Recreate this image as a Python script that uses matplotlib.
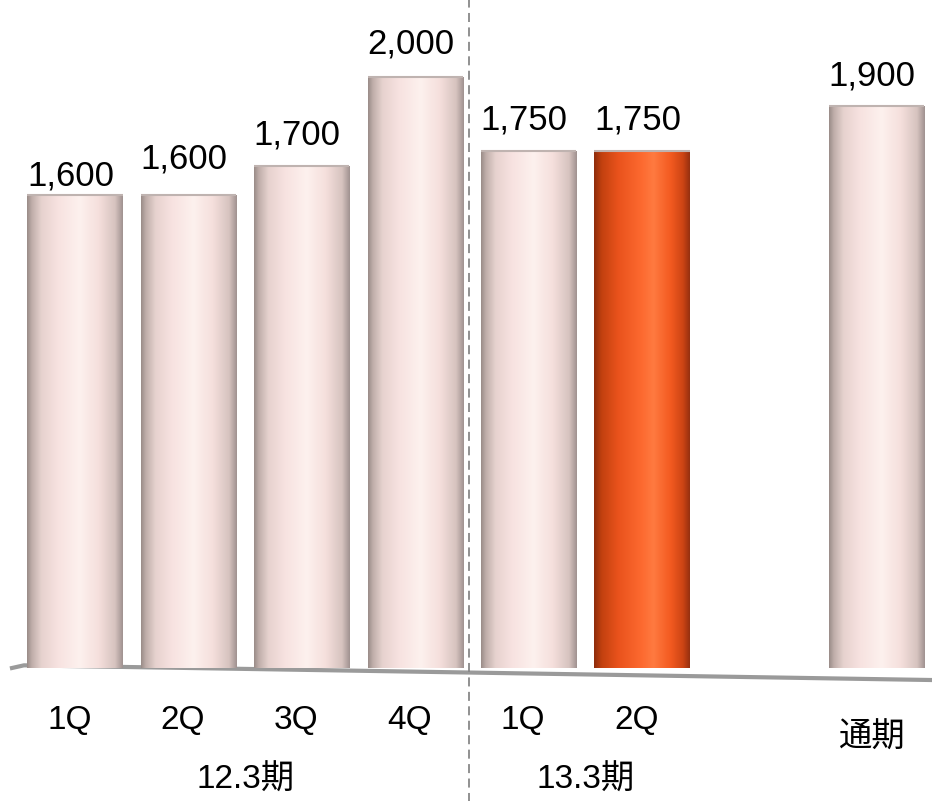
import numpy as np
import matplotlib
matplotlib.use("Agg")
import matplotlib.pyplot as plt
from matplotlib.colors import LinearSegmentedColormap
from matplotlib import transforms

plt.rcParams['font.family'] = ['Liberation Sans', 'Noto Sans CJK JP', 'DejaVu Sans']

# ---- data ----
quarters = ["1Q", "2Q", "3Q", "4Q", "1Q", "2Q", "通期"]
values = [1600, 1600, 1700, 2000, 1750, 1750, 1900]
value_labels = ["1,600", "1,600", "1,700", "2,000", "1,750", "1,750", "1,900"]
periods = ["12.3期", "13.3期"]
highlight = [False, False, False, False, False, True, False]

# ---- layout / style ----
xpos = [0, 1, 2, 3, 4, 5, 7.07]
period_centers = [1.5, 4.5]
label_offsets = [14, 26, 22, 24, 22, 22, 22]   # points above bar top

fig = plt.figure(figsize=(9.32, 8.01), dpi=100)
ax = fig.add_axes([12/932, 133/801, 920/932, 668/801])
ax.set_xlim(-0.556, 7.557)
ax.set_ylim(0, 2260)
ax.axis('off')

pink = LinearSegmentedColormap.from_list("pink", [
    (0.00, "#9a8c88"), (0.05, "#bfaeaa"), (0.15, "#e6d2ce"),
    (0.32, "#f7e2e0"), (0.55, "#fdf1ee"), (0.75, "#f5dfdc"),
    (0.92, "#d6c3bf"), (1.00, "#a09290")])
orange = LinearSegmentedColormap.from_list("orange", [
    (0.00, "#8e2c0c"), (0.08, "#c2410f"), (0.25, "#e9521c"),
    (0.50, "#fd6a30"), (0.62, "#ff7a40"), (0.80, "#f35a20"),
    (0.93, "#cc4414"), (1.00, "#963010")])

width = 0.84
grad = np.linspace(0, 1, 256).reshape(1, -1)
bars = ax.bar(xpos, values, width=width, color='none', edgecolor='none', zorder=2)
for b, x, v, hl in zip(bars, xpos, values, highlight):
    im = ax.imshow(grad, cmap=orange if hl else pink, aspect='auto',
                   extent=(x - width/2, x + width/2, 0, v), zorder=2,
                   interpolation='bilinear')
    im.set_clip_path(b)
    ax.plot([x - width/2, x + width/2], [v, v], color="#bfb3b0", lw=1.5, zorder=3,
            solid_capstyle='butt')

ax.set_xlim(-0.556, 7.557)
ax.set_ylim(0, 2260)

for x, v, lab, off in zip(xpos, values, value_labels, label_offsets):
    ax.annotate(lab, (x - 0.04, v), xytext=(0, off), textcoords='offset points',
                ha='center', va='center', fontsize=25, color='black')

# floor line
ax.plot([0, 0.013, 1], [0.0, 0.004, -0.018], transform=ax.transAxes, color="#9a9a9a",
        lw=3, clip_on=False, zorder=1)

# separator
trans = transforms.blended_transform_factory(ax.transData, ax.transAxes)
ax.plot([3.47, 3.47], [-0.2, 1.0], transform=trans, color="#888888", lw=1.3,
        ls=(0, (5, 3)), clip_on=False, zorder=4)

# category labels
for x, q in zip(xpos, quarters):
    y = -0.078 if q != "通期" else -0.105
    ax.text(x - 0.05, y, q, transform=trans, ha='center', va='center', fontsize=24)
for c, p in zip(period_centers, periods):
    ax.text(c, -0.168, p, transform=trans, ha='center', va='center', fontsize=24)

fig.savefig("out.png", dpi=100, facecolor='white')
